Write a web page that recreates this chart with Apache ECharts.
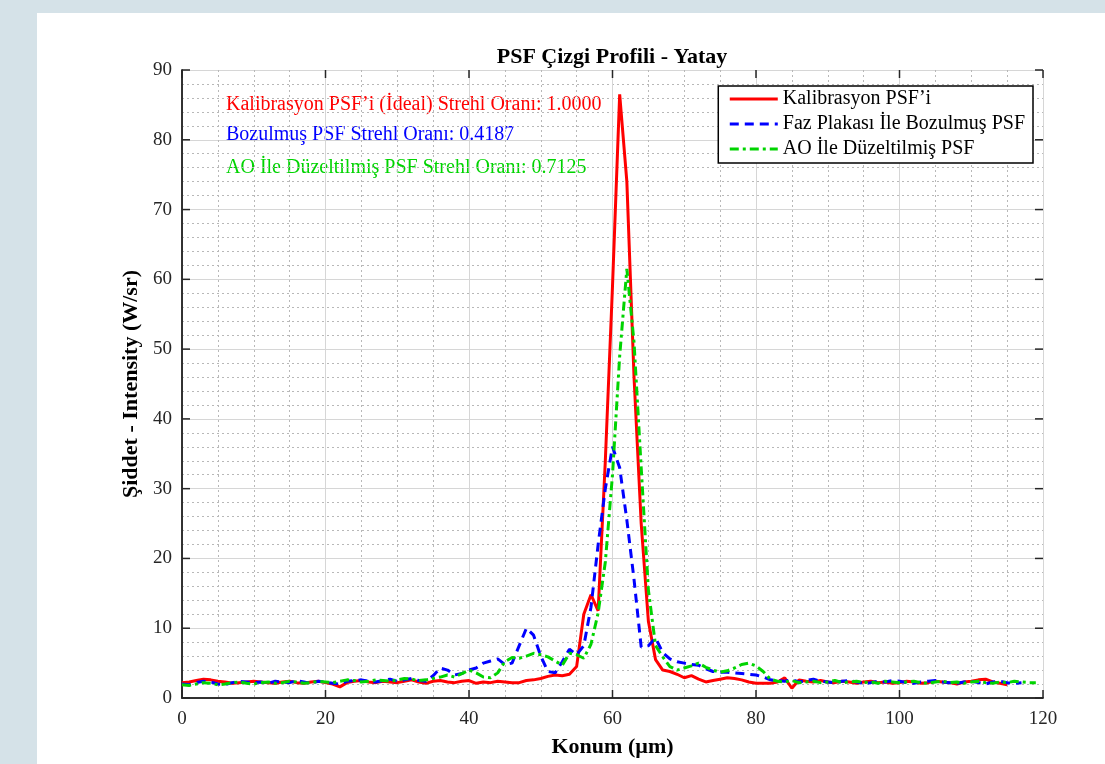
<!DOCTYPE html>
<html>
<head>
<meta charset="utf-8">
<script src="https://cdn.jsdelivr.net/npm/echarts@6/dist/echarts.min.js"></script>
<style>
  html, body { margin: 0; padding: 0; background: #d5e2e8; }
  #main { width: 1105px; height: 764px; }
</style>
</head>
<body>
<div id="main"></div>
<script>
// PSF line profile - horizontal (1 µm step, x = index)
var kalibrasyon = [
  2.2, 2.3, 2.5, 2.7, 2.6, 2.4, 2.3, 2.1, 2.2, 2.3,
  2.4, 2.3, 2.2, 2.1, 2.3, 2.4, 2.2, 2.1, 2.3, 2.4,
  2.2, 2.0, 1.6, 2.2, 2.4, 2.5, 2.3, 2.2, 2.4, 2.3,
  2.2, 2.4, 2.6, 2.3, 2.1, 2.4, 2.5, 2.3, 2.2, 2.4,
  2.5, 2.1, 2.3, 2.2, 2.4, 2.3, 2.2, 2.2, 2.5, 2.6,
  2.8, 3.1, 3.3, 3.2, 3.4, 4.5, 12, 14.8, 12.5, 34,
  59, 86.5, 74, 46, 25, 11, 5.5, 4.0, 3.8, 3.4,
  2.9, 3.2, 2.7, 2.3, 2.5, 2.7, 2.9, 2.8, 2.6, 2.3,
  2.1, 2.1, 2.1, 2.3, 2.9, 1.4, 2.6, 2.4, 2.3, 2.5,
  2.3, 2.2, 2.4, 2.3, 2.1, 2.3, 2.4, 2.2, 2.3, 2.1,
  2.2, 2.4, 2.3, 2.1, 2.2, 2.4, 2.3, 2.2, 2.0, 2.3,
  2.4, 2.6, 2.7, 2.3, 2.1, 1.9
];
var bozulmus = [
  2.0, 1.9, 2.2, 2.4, 2.3, 2.0, 1.9, 2.2, 2.4, 2.3,
  2.2, 2.3, 2.1, 2.4, 2.3, 2.2, 2.5, 2.3, 2.1, 2.4,
  2.3, 2.1, 2.0, 2.4, 2.5, 2.6, 2.4, 2.3, 2.5, 2.7,
  2.4, 2.6, 2.8, 2.5, 2.4, 3.2, 4.3, 4.0, 3.3, 3.5,
  4.0, 4.3, 5.0, 5.3, 5.6, 4.8, 5.0, 7.5, 10.0, 9.0,
  6.0, 3.8, 3.6, 5.2, 7.0, 6.2, 7.5, 13, 22, 30,
  36, 33, 25.5, 17, 7.3, 7.5, 8.6, 6.5, 5.6, 5.2,
  5.0, 4.8, 4.7, 4.2, 3.8, 3.7, 3.7, 3.6, 3.5, 3.4,
  3.3, 3.0, 2.6, 2.5, 2.4, 2.6, 2.3, 2.5, 2.7, 2.4,
  2.3, 2.2, 2.4, 2.5, 2.3, 2.1, 2.2, 2.4, 2.3, 2.5,
  2.4, 2.2, 2.1, 2.3, 2.4, 2.5, 2.3, 2.2, 2.1, 2.3,
  2.4, 2.2, 2.0, 2.3, 2.4, 2.2, 2.1, 2.2
];
var aoDuzeltilmis = [
  1.9, 1.8, 2.0, 2.2, 2.1, 1.9, 2.0, 2.2, 2.3, 2.1,
  2.0, 2.2, 2.3, 2.1, 2.2, 2.4, 2.3, 2.1, 2.2, 2.4,
  2.3, 2.2, 2.4, 2.6, 2.5, 2.3, 2.4, 2.6, 2.5, 2.4,
  2.6, 2.8, 2.7, 2.5, 2.6, 2.8, 3.0, 3.3, 3.0, 3.5,
  4.0, 3.6, 3.0, 2.9, 3.6, 5.2, 5.8, 5.7, 6.0, 6.4,
  6.2, 5.9, 5.3, 4.7, 6.4, 6.2, 5.7, 7.7, 12.2, 19.5,
  32, 49, 61.5, 51, 33, 15.5, 7.5, 5.9, 4.5, 4.0,
  4.3, 4.6, 5.0, 4.4, 4.0, 3.7, 3.9, 4.3, 4.8, 5.0,
  4.6, 3.8, 2.7, 2.4, 2.3, 2.5, 2.2, 2.3, 2.4, 2.2,
  2.3, 2.5, 2.2, 2.3, 2.4, 2.2, 2.3, 2.1, 2.4, 2.3,
  2.2, 2.3, 2.4, 2.2, 2.1, 2.3, 2.4, 2.2, 2.3, 2.1,
  2.3, 2.4, 2.2, 2.1, 2.3, 2.2, 2.4, 2.3, 2.2, 2.2
];
var xTicks = [0, 20, 40, 60, 80, 100, 120];
var yTicks = [0, 10, 20, 30, 40, 50, 60, 70, 80, 90];
var seriesNames = ['Kalibrasyon PSF\u2019i', 'Faz Plakası İle Bozulmuş PSF', 'AO İle Düzeltilmiş PSF'];
var strehlTexts = [
  'Kalibrasyon PSF\u2019i (İdeal) Strehl Oranı: 1.0000',
  'Bozulmuş PSF Strehl Oranı: 0.4187',
  'AO İle Düzeltilmiş PSF Strehl Oranı: 0.7125'
];

function toPairs(arr) {
  return arr.map(function (v, i) { return [i, v]; });
}

var serif = '"Liberation Serif", "DejaVu Serif", serif';
var RED = '#ff0000', BLUE = '#0000ff', GREEN = '#00d400';
var AXIS = '#262626';
var TICK = 8;

var chart = echarts.init(document.getElementById('main'));
var option = {
  backgroundColor: '#d5e2e8',
  animation: false,
  title: {
    text: 'PSF Çizgi Profili - Yatay',
    left: 607, top: 41, textAlign: 'center',
    textStyle: { fontFamily: serif, fontSize: 22, fontWeight: 'bold', color: '#000' }
  },
  grid: { left: 182, right: 62, top: 70, bottom: 66 },
  legend: {
    right: 72, top: 86,
    orient: 'vertical',
    itemWidth: 48, itemHeight: 12, itemGap: 5,
    padding: [3, 8, 4, 10],
    borderColor: '#000', borderWidth: 1.5,
    backgroundColor: '#fff',
    itemStyle: { opacity: 0 },
    lineStyle: { width: 3 },
    textStyle: { fontFamily: serif, fontSize: 20, lineHeight: 20, color: '#000' },
    data: seriesNames
  },
  graphic: [
    { type: 'rect', z: -10, shape: { x: 37, y: 13, width: 1068, height: 751 }, style: { fill: '#fff' } },
    { type: 'text', x: 226, y: 95, style: { text: strehlTexts[0], fill: RED, font: '20px ' + serif } },
    { type: 'text', x: 226, y: 125, style: { text: strehlTexts[1], fill: BLUE, font: '20px ' + serif } },
    { type: 'text', x: 226, y: 158, style: { text: strehlTexts[2], fill: GREEN, font: '20px ' + serif } }
  ],
  xAxis: [{
    type: 'value', min: 0, max: 120, interval: 20,
    name: 'Konum (µm)', nameLocation: 'middle', nameGap: 38,
    nameTextStyle: { fontFamily: serif, fontSize: 22, fontWeight: 'bold', color: '#000' },
    axisLine: { onZero: false, lineStyle: { color: AXIS, width: 1.5 } },
    axisTick: { show: false },
    minorTick: { show: false, splitNumber: 4 },
    axisLabel: { fontFamily: serif, fontSize: 19, color: '#262626', margin: 12 },
    splitLine: { show: true, lineStyle: { color: '#d6d6d6', width: 1 } },
    minorSplitLine: { show: true, lineStyle: { color: '#b8b8b8', type: [2, 3], width: 1 } }
  }, {
    type: 'value', min: 0, max: 120, interval: 20, position: 'top',
    axisLine: { show: true, lineStyle: { color: AXIS, width: 1.5 } },
    axisTick: { show: false },
    axisLabel: { show: false }, splitLine: { show: false }
  }],
  yAxis: [{
    type: 'value', min: 0, max: 90, interval: 10,
    name: 'Şiddet - Intensity (W/sr)', nameLocation: 'middle', nameGap: 26,
    nameTextStyle: { fontFamily: serif, fontSize: 22, fontWeight: 'bold', color: '#000' },
    axisLine: { show: true, lineStyle: { color: AXIS, width: 1.5 } },
    axisTick: { show: false },
    minorTick: { show: false, splitNumber: 5 },
    axisLabel: { fontFamily: serif, fontSize: 19, color: '#262626', margin: 10 },
    splitLine: { show: true, lineStyle: { color: '#d6d6d6', width: 1 } },
    minorSplitLine: { show: true, lineStyle: { color: '#b8b8b8', type: [2, 3], width: 1 } }
  }, {
    type: 'value', min: 0, max: 90, interval: 10, position: 'right',
    axisLine: { show: true, lineStyle: { color: AXIS, width: 1.5 } },
    axisTick: { show: false },
    axisLabel: { show: false }, splitLine: { show: false }
  }],
  series: [{
    name: seriesNames[0], type: 'line', showSymbol: false, symbol: 'none', z: 3,
    data: toPairs(kalibrasyon),
    lineStyle: { color: RED, width: 3 }, itemStyle: { color: RED }
  }, {
    name: seriesNames[1], type: 'line', showSymbol: false, symbol: 'none', z: 4,
    data: toPairs(bozulmus),
    lineStyle: { color: BLUE, width: 3, type: [9, 6] }, itemStyle: { color: BLUE }
  }, {
    name: seriesNames[2], type: 'line', showSymbol: false, symbol: 'none', z: 5,
    data: toPairs(aoDuzeltilmis),
    lineStyle: { color: GREEN, width: 3, type: [9, 4, 3, 4] }, itemStyle: { color: GREEN }
  }]
};
chart.setOption(option);

// inward ticks on all four sides of the box, placed with the axis scales
var x0 = chart.convertToPixel({ xAxisIndex: 0 }, 0);
var x1 = chart.convertToPixel({ xAxisIndex: 0 }, 120);
var yB = chart.convertToPixel({ yAxisIndex: 0 }, 0);
var yT = chart.convertToPixel({ yAxisIndex: 0 }, 90);
var ticks = [];
function tickLine(a, b, c, d) {
  ticks.push({ type: 'line', z: 50, shape: { x1: a, y1: b, x2: c, y2: d },
    style: { stroke: AXIS, lineWidth: 1.5 } });
}
xTicks.forEach(function (v) {
  var px = chart.convertToPixel({ xAxisIndex: 0 }, v);
  tickLine(px, yB, px, yB - TICK);
  tickLine(px, yT, px, yT + TICK);
});
yTicks.forEach(function (v) {
  var py = chart.convertToPixel({ yAxisIndex: 0 }, v);
  tickLine(x0, py, x0 + TICK, py);
  tickLine(x1, py, x1 - TICK, py);
});
chart.setOption({ graphic: option.graphic.concat(ticks) });
</script>
</body>
</html>
